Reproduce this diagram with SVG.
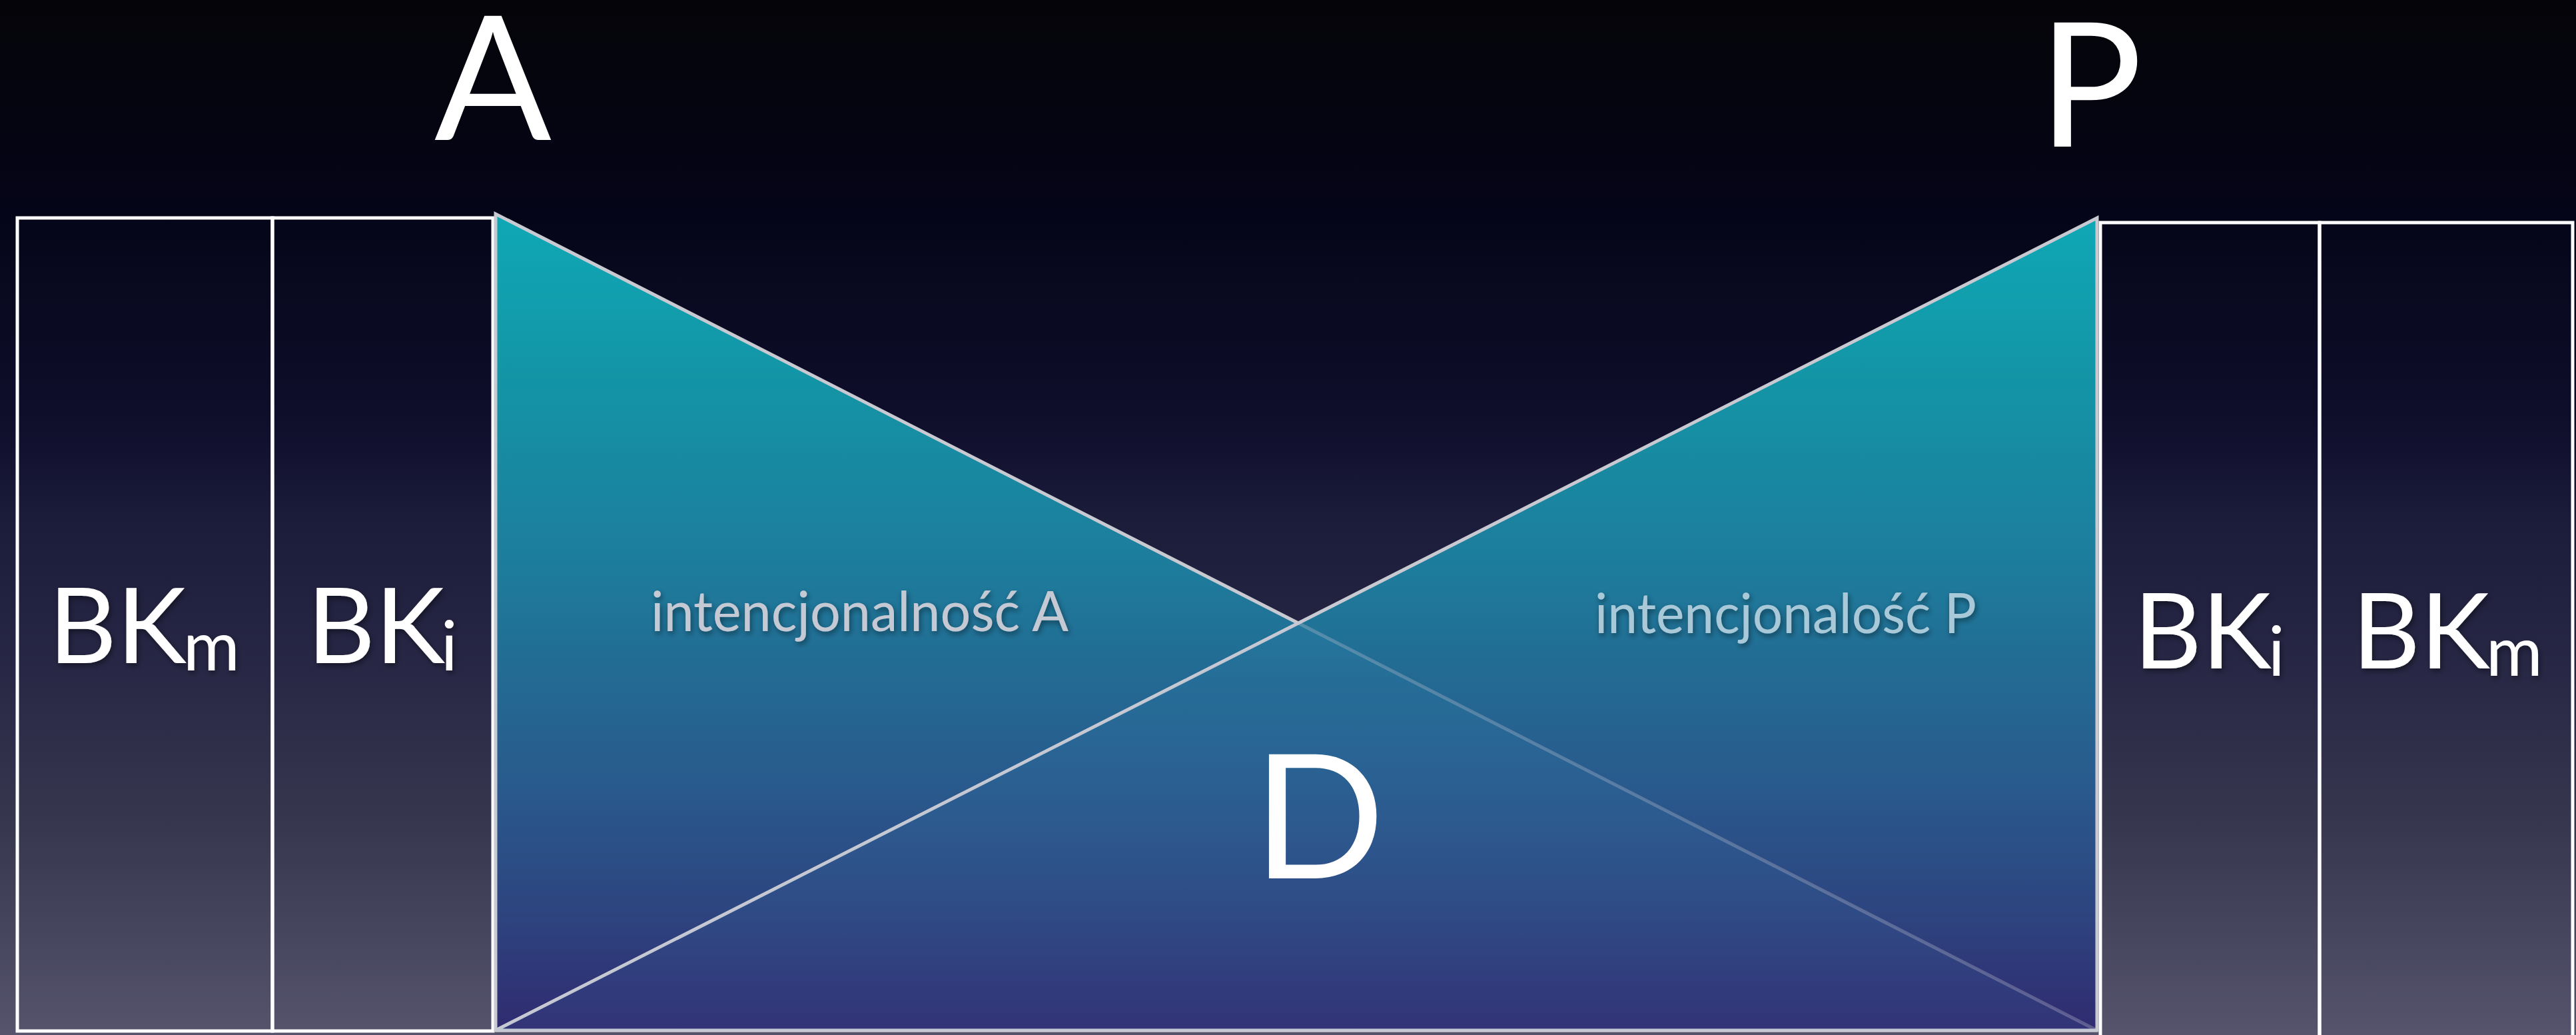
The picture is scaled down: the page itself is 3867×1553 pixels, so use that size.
<svg xmlns="http://www.w3.org/2000/svg" width="3867" height="1553" viewBox="0 0 3867 1553">
  <defs>
    <linearGradient id="bg" gradientUnits="userSpaceOnUse" x1="0" y1="0" x2="0" y2="1553">
      <stop offset="0" stop-color="#040408"/>
      <stop offset="0.2" stop-color="#050518"/>
      <stop offset="0.4" stop-color="#0e0e2b"/>
      <stop offset="0.5" stop-color="#1b1b3a"/>
      <stop offset="0.65" stop-color="#282846"/>
      <stop offset="0.8" stop-color="#37374f"/>
      <stop offset="1" stop-color="#55546c"/>
    </linearGradient>
    <linearGradient id="tri" gradientUnits="userSpaceOnUse" x1="0" y1="321" x2="0" y2="1546">
      <stop offset="0" stop-color="#0fa8b5"/>
      <stop offset="0.2" stop-color="#1395a6"/>
      <stop offset="0.45" stop-color="#1e7a9b"/>
      <stop offset="0.55" stop-color="#226c94"/>
      <stop offset="0.7" stop-color="#295a8d"/>
      <stop offset="0.85" stop-color="#2d4580"/>
      <stop offset="1" stop-color="#302b70"/>
    </linearGradient>
    <filter id="sh" x="-10%" y="-20%" width="120%" height="150%">
      <feDropShadow dx="2" dy="4" stdDeviation="4" flood-color="#000" flood-opacity="0.45"/>
    </filter>
  </defs>
  <style>
    .box { fill: none; stroke: #ffffff; stroke-width: 5; }
    .tri { fill: url(#tri); stroke: #c9c9d2; stroke-width: 5; stroke-linejoin: miter; }
    .big { font-family: Lato, "Open Sans", sans-serif; fill: #ffffff; font-size: 260px; }
    .bk { font-family: Lato, "Open Sans", sans-serif; fill: #ffffff; font-size: 158px; filter: url(#sh); }
    .sub { font-family: Lato, "Open Sans", sans-serif; fill: #ffffff; font-size: 103px; filter: url(#sh); }
    .int { font-family: Lato, "Open Sans", sans-serif; font-size: 84px; filter: url(#sh); }
  </style>

  <rect x="0" y="0" width="3867" height="1553" fill="url(#bg)"/>

  <g id="label-A"><text class="big" x="740" y="210" text-anchor="middle">A</text></g>
  <g id="label-P"><text class="big" x="3060" y="220">P</text></g>

  <g id="left-BKm">
    <rect class="box" x="26" y="327" width="383" height="1220"/>
    <text class="bk" x="73" y="995">BK</text>
    <text class="sub" x="275" y="1006">m</text>
  </g>
  <g id="left-BKi">
    <rect class="box" x="409" y="327" width="331" height="1220"/>
    <text class="bk" x="461" y="995">BK</text>
    <text class="sub" x="662" y="1006">i</text>
  </g>

  <g id="right-BKi">
    <rect class="box" x="3153" y="334" width="329" height="1230"/>
    <text class="bk" x="3203" y="1003">BK</text>
    <text class="sub" x="3405" y="1014">i</text>
  </g>
  <g id="right-BKm">
    <rect class="box" x="3482" y="334" width="380" height="1230"/>
    <text class="bk" x="3531" y="1003">BK</text>
    <text class="sub" x="3732" y="1014">m</text>
  </g>

  <g id="triangle-A">
    <polygon class="tri" points="744,321 744,1546 3148,1546"/>
  </g>
  <g id="triangle-P">
    <polygon class="tri" points="3148,327 3148,1546 744,1546"/>
    <polygon points="1949,935 3148,1546 744,1546" fill="#5ab8e8" opacity="0.06"/>
  </g>
  <g id="connectors">
    <line x1="1949" y1="935" x2="3148" y2="1546" stroke="#c9c9d2" stroke-width="5" opacity="0.3"/>
  </g>

  <g id="label-intA"><text class="int" x="977" y="947" fill="#c5c9d3" textLength="627" lengthAdjust="spacingAndGlyphs">intencjonalność A</text></g>
  <g id="label-intP"><text class="int" x="2394" y="950" fill="#a9c9d9" textLength="573" lengthAdjust="spacingAndGlyphs">intencjonalość P</text></g>
  <g id="label-D"><text class="big" x="1980" y="1318" text-anchor="middle" fill="#dbe3ee">D</text></g>
</svg>
